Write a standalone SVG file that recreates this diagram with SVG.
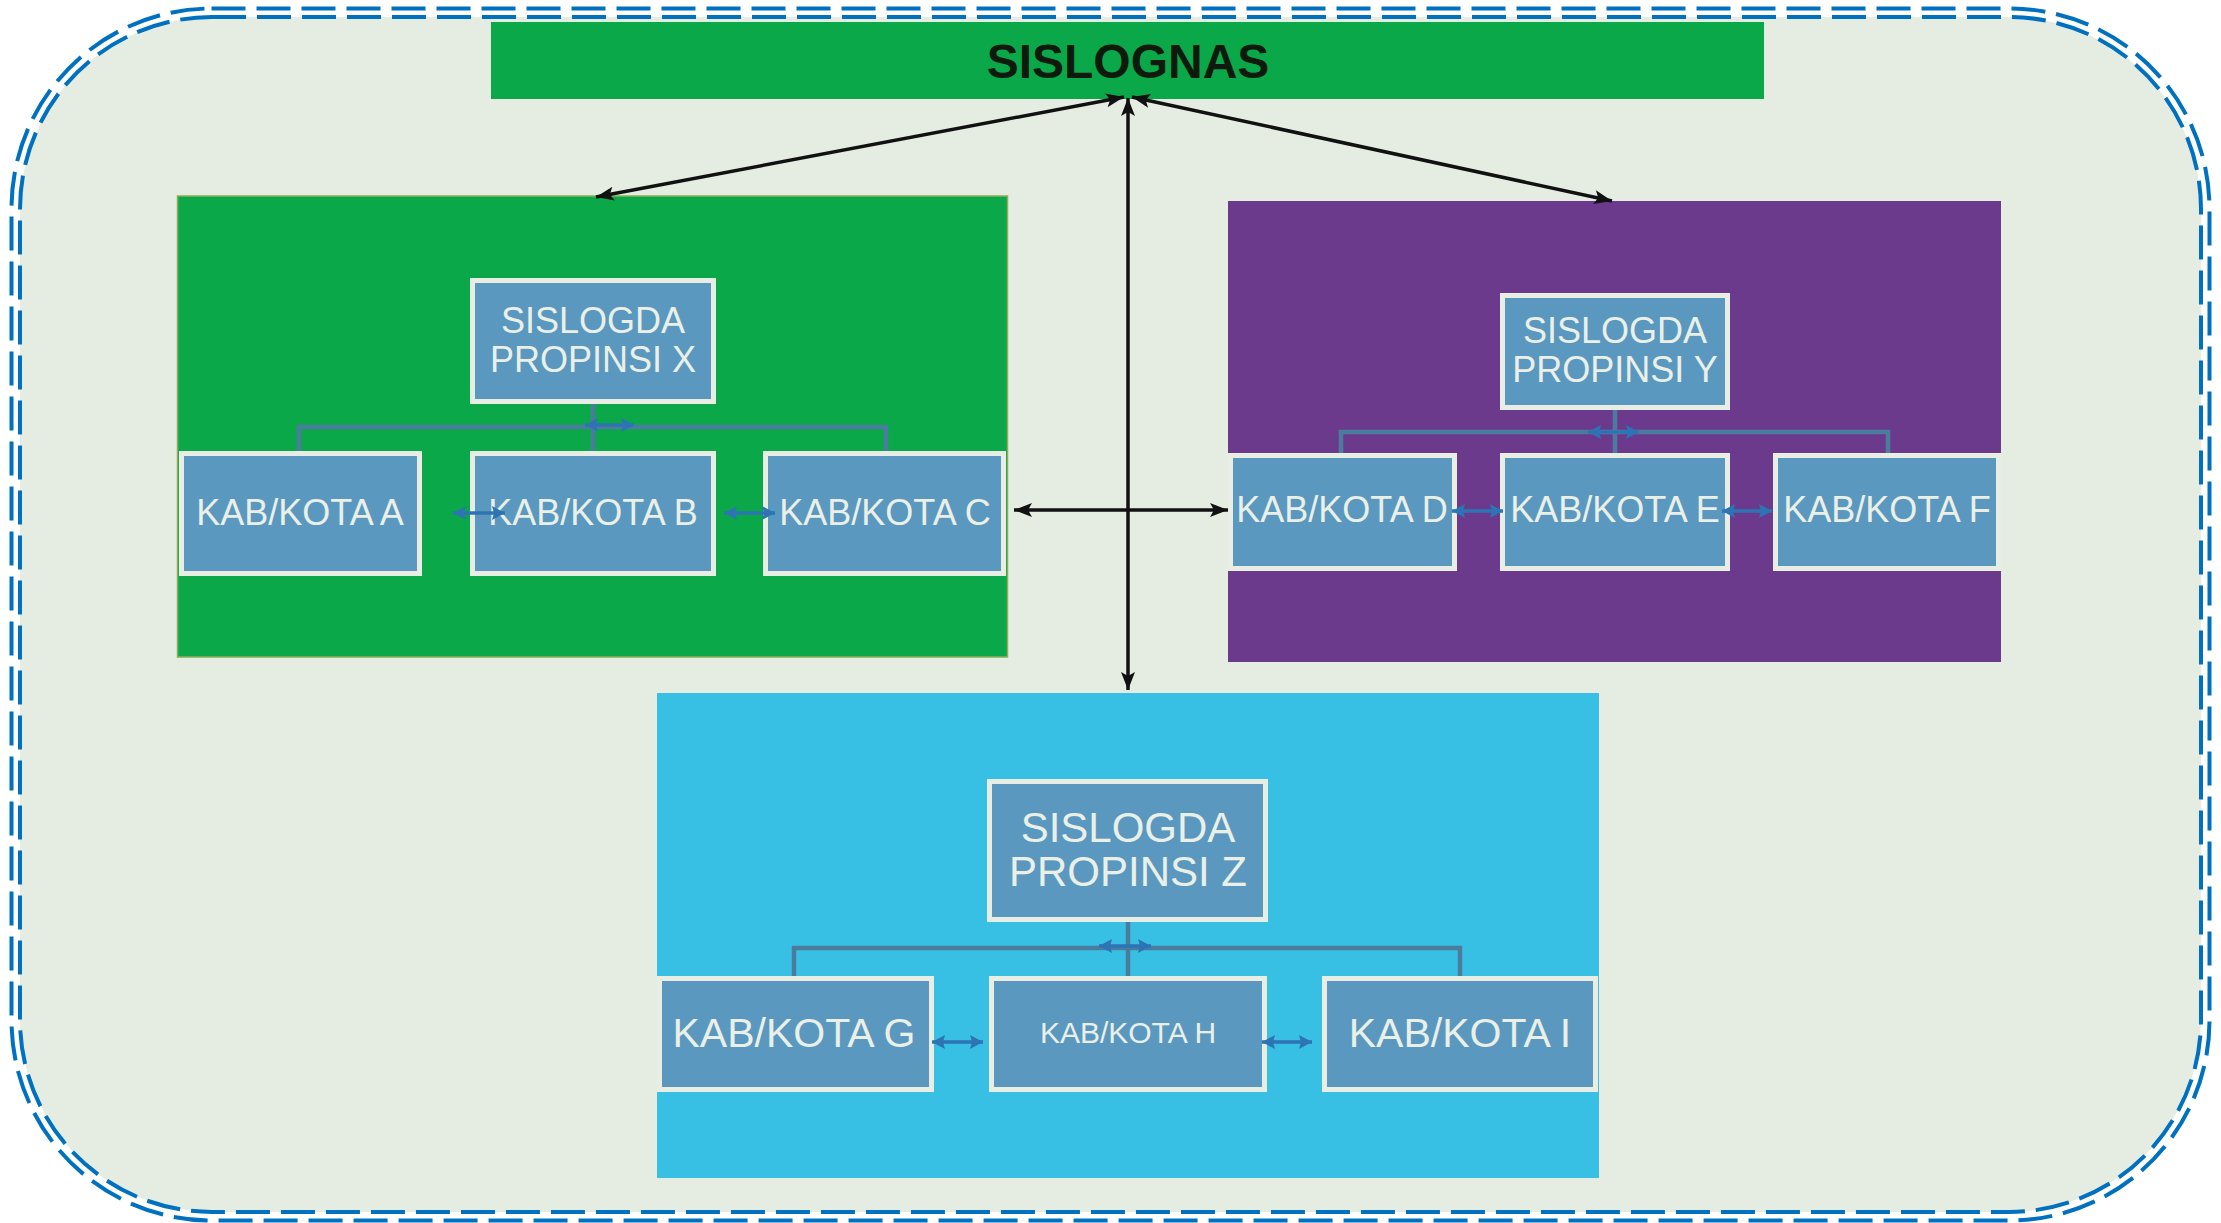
<svg xmlns="http://www.w3.org/2000/svg" width="2221" height="1223" viewBox="0 0 2221 1223">
<style>
.node{fill:#5B98C0;stroke:#E8EEE4;stroke-width:5}
.nt{font-family:"Liberation Sans",Arial,sans-serif;fill:#EAF0E6;text-anchor:middle}
.tree{fill:none;stroke:#4B7C9E;stroke-width:4.5}
.blk{stroke:#111;stroke-width:3.5;fill:none;marker-start:url(#ka);marker-end:url(#ka)}
.blu{stroke:#2E74B5;stroke-width:3.5;fill:none;marker-start:url(#ba);marker-end:url(#ba)}
.dash{fill:none;stroke:#0070C0;stroke-width:4;stroke-dasharray:34 11}
</style>
<defs>
<marker id="ka" markerUnits="userSpaceOnUse" markerWidth="20" markerHeight="16" refX="18" refY="7" orient="auto-start-reverse"><path d="M0,0 L18,7 L0,14 L4,7 Z" fill="#111"/></marker>
<marker id="ba" markerUnits="userSpaceOnUse" markerWidth="16" markerHeight="16" refX="13" refY="7" orient="auto-start-reverse"><path d="M0,0 L13,7 L0,14 L2,7 Z" fill="#2E74B5"/></marker>
</defs>
<rect width="2221" height="1223" fill="#FFFFFF"/>
<g id="frame">
<rect x="20" y="17" width="2181" height="1195" rx="193" fill="#E5EDE2"/>
<rect class="dash" x="11.5" y="8.5" width="2198" height="1212" rx="200"/>
<rect class="dash" x="20" y="17" width="2181" height="1195" rx="192"/>
</g>
<g id="panel-x"><rect x="177.5" y="196" width="830" height="461" fill="#0BA84A" stroke="#8AAE5A" stroke-width="1.5"/></g>
<g id="panel-y"><rect x="1228" y="201" width="773" height="461" fill="#6B3A8C"/></g>
<g id="panel-z"><rect x="657" y="693" width="942" height="485" fill="#37C0E4"/></g>
<g id="sislognas"><rect x="491" y="22" width="1273" height="77" fill="#0BA84A"/>
<text x="1128" y="78" font-family="Liberation Sans,Arial,sans-serif" font-weight="bold" font-size="48" text-anchor="middle" fill="#0D1A0D">SISLOGNAS</text></g>
<g id="tree-lines">
<path class="tree" d="M593,404 V451 M299,451 V427 H886 V451"/>
<path class="tree" d="M1615,410 V453 M1341,453 V432 H1888 V453"/>
<path class="tree" d="M1128,922 V976 M794,976 V948 H1460 V976"/>
</g>
<g id="sislogda-x"><rect class="node" x="472.5" y="280.5" width="241" height="121"/><text class="nt" font-size="36"><tspan x="593" y="333">SISLOGDA</tspan><tspan x="593" y="372">PROPINSI X</tspan></text></g>
<g id="kab-a"><rect class="node" x="181.5" y="453.5" width="238" height="120"/><text class="nt" font-size="36" x="300" y="525">KAB/KOTA A</text></g>
<g id="kab-b"><rect class="node" x="472.5" y="453.5" width="241" height="120"/><text class="nt" font-size="36" x="593" y="525">KAB/KOTA B</text></g>
<g id="kab-c"><rect class="node" x="765.5" y="453.5" width="238" height="120"/><text class="nt" font-size="36" x="885" y="525">KAB/KOTA C</text></g>
<g id="sislogda-y"><rect class="node" x="1502.5" y="295.5" width="225" height="112"/><text class="nt" font-size="36"><tspan x="1615" y="343">SISLOGDA</tspan><tspan x="1615" y="382">PROPINSI Y</tspan></text></g>
<g id="kab-d"><rect class="node" x="1230.5" y="455.5" width="224" height="113"/><text class="nt" font-size="36" x="1342" y="522">KAB/KOTA D</text></g>
<g id="kab-e"><rect class="node" x="1502.5" y="455.5" width="225" height="113"/><text class="nt" font-size="36" x="1615" y="522">KAB/KOTA E</text></g>
<g id="kab-f"><rect class="node" x="1775.5" y="455.5" width="223" height="113"/><text class="nt" font-size="36" x="1887" y="522">KAB/KOTA F</text></g>
<g id="sislogda-z"><rect class="node" x="989.5" y="781.5" width="276" height="138"/><text class="nt" font-size="42"><tspan x="1128" y="842">SISLOGDA</tspan><tspan x="1128" y="886">PROPINSI Z</tspan></text></g>
<g id="kab-g"><rect class="node" x="659.5" y="978.5" width="272" height="111"/><text class="nt" font-size="41" x="794" y="1047">KAB/KOTA G</text></g>
<g id="kab-h"><rect class="node" x="991.5" y="978.5" width="273" height="111"/><text class="nt" font-size="30" x="1128" y="1043">KAB/KOTA H</text></g>
<g id="kab-i"><rect class="node" x="1324.5" y="978.5" width="271" height="111"/><text class="nt" font-size="41" x="1460" y="1047">KAB/KOTA I</text></g>
<g id="connectors">
<line class="blk" x1="1124" y1="97" x2="596" y2="197"/>
<line class="blk" x1="1132" y1="97" x2="1612" y2="201"/>
<line class="blk" x1="1128" y1="98" x2="1128" y2="690"/>
<line class="blk" x1="1014" y1="510" x2="1228" y2="510"/>
<line class="blu" x1="585" y1="425" x2="634" y2="425"/>
<line class="blu" x1="453" y1="513" x2="505" y2="513"/>
<line class="blu" x1="724" y1="513" x2="775" y2="513"/>
<line class="blu" x1="1588" y1="432" x2="1639" y2="432"/>
<line class="blu" x1="1452" y1="511" x2="1503" y2="511"/>
<line class="blu" x1="1722" y1="511" x2="1772" y2="511"/>
<line class="blu" x1="1099" y1="946" x2="1151" y2="946"/>
<line class="blu" x1="932" y1="1042" x2="983" y2="1042"/>
<line class="blu" x1="1262" y1="1042" x2="1312" y2="1042"/>
</g>
</svg>
